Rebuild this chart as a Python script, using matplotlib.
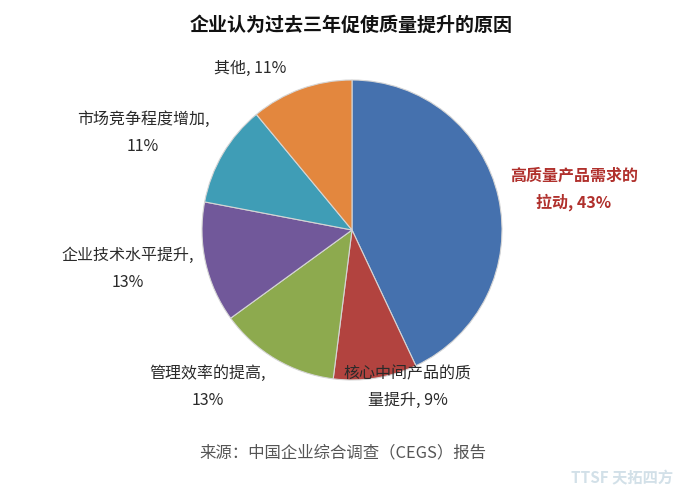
import matplotlib
matplotlib.use('Agg')
from matplotlib import pyplot as plt

plt.rcParams['font.family'] = ['Noto Sans CJK SC', 'DejaVu Sans']

# data (clockwise from 12 o'clock)
categories = ['高质量产品需求的\n拉动', '核心中间产品的质\n量提升', '管理效率的提高,\n',
              '企业技术水平提升,\n', '市场竞争程度增加,\n', '其他']
values = [43, 9, 13, 13, 11, 11]
colors = ['#4571AE', '#B2433F', '#8DAA4E', '#71589A', '#3F9DB6', '#E3873E']

W, H = 700, 498
fig = plt.figure(figsize=(7, 4.98), dpi=100)
ax = fig.add_axes([0, 0, 1, 1])

ax.pie(values, colors=colors, startangle=90, counterclock=False,
       center=(352, H - 230), radius=150,
       wedgeprops=dict(edgecolor='#d5d5d5', linewidth=0.8))
ax.set_xlim(0, W)
ax.set_ylim(0, H)
ax.set_aspect('auto')
ax.axis('off')

# label positions in pixels (x, y from top)
label_pos = [(574, 189), (408, 387), (208, 387), (128, 269), (143, 133), (250, 68)]
for i, (cat, v, (x, y)) in enumerate(zip(categories, values, label_pos)):
    if cat.endswith('\n'):
        txt = f'{cat}{v}%'
    else:
        txt = f'{cat}, {v}%'
    if i == 0:
        ax.text(x, H - y, txt, ha='center', va='center', fontsize=11.5,
                color='#B0302C', fontweight='bold', linespacing=1.7)
    else:
        ax.text(x, H - y, txt, ha='center', va='center', fontsize=11.5,
                color='#2a2a2a', linespacing=1.7)

ax.text(351, H - 25, '企业认为过去三年促使质量提升的原因', ha='center', va='center',
        fontsize=13.7, fontweight='bold', color='#111111')
ax.text(343, H - 453, '来源：中国企业综合调查（CEGS）报告', ha='center', va='center',
        fontsize=11.8, color='#555555')
ax.text(622, H - 478, 'TTSF 天拓四方', ha='center', va='center',
        fontsize=11, fontweight='bold', color='#d2e0e8')

plt.savefig('out.png', dpi=100)
plt.close()
